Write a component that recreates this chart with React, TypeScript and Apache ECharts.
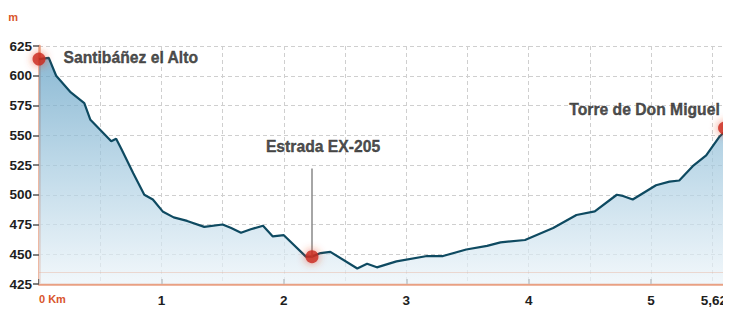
import React, { useEffect, useRef } from "react";
import * as echarts from "echarts";

// Distance along the route (km) and elevation (m)
const distances = [
  0, 0.08, 0.14, 0.26, 0.37, 0.42, 0.505, 0.59, 0.63, 0.67, 0.77, 0.86, 0.93,
  1.01, 1.1, 1.21, 1.35, 1.5, 1.57, 1.65, 1.73, 1.83, 1.91, 2.0, 2.18, 2.23,
  2.3, 2.38, 2.6, 2.68, 2.76, 2.92, 3.17, 3.3, 3.49, 3.66, 3.77, 3.97, 4.2,
  4.39, 4.54, 4.72, 4.77, 4.85, 5.04, 5.15, 5.23, 5.34, 5.45, 5.56, 5.62,
];
const elevations = [
  614, 615, 600, 586, 577, 563, 554, 545, 547, 539, 518, 500, 496, 486, 481,
  478, 473, 475, 472, 468, 471, 474, 465, 466, 448, 448, 451, 452, 438, 442,
  439, 444, 448.5, 448.5, 454, 457, 460, 462, 472, 483, 486, 500, 499, 496,
  508, 511, 512, 524, 533, 549, 555,
];

// Named places on the route
const placeNames = ["Santibáñez el Alto", "Estrada EX-205", "Torre de Don Miguel"];
const placeKm = [0, 2.23, 5.6];
const placeElev = [614, 448, 556];
const estradaLeaderTop = 522;
const baseGuideElev = 435;

const yTicks = [425, 450, 475, 500, 525, 550, 575, 600, 625];
const xMax = 5.62;

const FONT = "'Liberation Sans', Arial, sans-serif";
const AXIS_COLOR = "#e9a083";
const RED_TEXT = "#d9552b";
const TEXT = "#1e1e1e";

export default function App() {
  const ref = useRef<HTMLDivElement>(null);

  useEffect(() => {
    if (!ref.current) return;
    const chart = echarts.init(ref.current, undefined, { renderer: "svg" });

    const profile = distances.map((d, i) => [d, elevations[i]]);

    const labelCfgs: any[] = [
      { position: "right", distance: 18, offset: [0, -2] },
      { position: "top", distance: 96, offset: [11, 0] },
      { position: "top", distance: 4, offset: [-80, 0] },
    ];
    const places = placeNames.map((name, i) => ({
      name,
      value: [placeKm[i], placeElev[i]],
      label: {
        show: true,
        formatter: name,
        color: TEXT,
        fontSize: 15.7,
        fontWeight: "bold",
        fontFamily: FONT,
        textBorderColor: TEXT,
        textBorderWidth: 0.4,
        ...labelCfgs[i],
      },
    }));

    chart.setOption({
      animation: false,
      grid: { left: 39, right: 4, top: 46, bottom: 26, containLabel: false },
      xAxis: [
        {
          type: "value",
          min: 0,
          max: xMax,
          interval: 1,
          axisLine: { show: true, lineStyle: { color: AXIS_COLOR, width: 2.5 } },
          axisTick: { show: true, inside: true, length: 5, lineStyle: { color: "#555", width: 1.5 } },
          splitLine: { show: false },
          axisLabel: {
            margin: 9,
            fontSize: 13.5,
            fontWeight: "bold",
            color: TEXT,
            fontFamily: FONT,
            alignMinLabel: "left",
            alignMaxLabel: "right",
            formatter: (v: number) => {
              if (v === 0) return "{r|0 Km}";
              if (Math.abs(v - xMax) < 1e-6) return "5,62";
              return String(v);
            },
            rich: {
              r: { color: RED_TEXT, fontSize: 11, fontWeight: "bold", fontFamily: FONT },
            },
          },
        },
        {
          type: "value",
          min: 0,
          max: xMax,
          interval: 0.5,
          axisLine: { show: false },
          axisTick: { show: false },
          axisLabel: { show: false },
          splitLine: { show: true, lineStyle: { color: "#cfcfcf", type: [4, 3], width: 1 } },
        },
      ],
      yAxis: {
        type: "value",
        min: yTicks[0],
        max: yTicks[yTicks.length - 1],
        interval: 25,
        name: "m",
        nameLocation: "end",
        nameGap: 24,
        nameTextStyle: {
          color: RED_TEXT,
          fontSize: 11,
          fontWeight: "bold",
          fontFamily: FONT,
          align: "right",
          padding: [0, 21, 0, 0],
        },
        axisLine: { show: true, lineStyle: { color: AXIS_COLOR, width: 2.5 } },
        axisTick: { show: true, length: 6, lineStyle: { color: "#555", width: 1.5 } },
        axisLabel: {
          margin: 7,
          fontSize: 13.5,
          fontWeight: "bold",
          color: TEXT,
          fontFamily: FONT,
        },
        splitLine: { show: true, lineStyle: { color: "#cfcfcf", type: [4, 3], width: 1 } },
      },
      series: [
        {
          type: "line",
          data: profile,
          xAxisIndex: 0,
          symbol: "none",
          lineStyle: { color: "#0e4a61", width: 2.2 },
          areaStyle: {
            color: new echarts.graphic.LinearGradient(0, 0, 0, 1, [
              { offset: 0, color: "#5d9dc2" },
              { offset: 0.5, color: "#a6cbe0" },
              { offset: 1, color: "#ecf4f9" },
            ]),
          },
          markLine: {
            silent: true,
            symbol: "none",
            label: { show: false },
            lineStyle: { color: "rgba(233,160,131,0.35)", type: "solid", width: 1.2 },
            data: [{ yAxis: baseGuideElev }],
          },
          z: 2,
        },
        {
          type: "scatter",
          xAxisIndex: 0,
          data: places,
          clip: false,
          symbol: "circle",
          symbolSize: 13,
          itemStyle: {
            color: "#c9281d",
            shadowBlur: 8,
            shadowColor: "rgba(235,70,40,0.85)",
          },
          markLine: {
            silent: true,
            symbol: "none",
            label: { show: false },
            lineStyle: { color: "#888", type: "solid", width: 1.5 },
            data: [
              [
                { coord: [placeKm[1], placeElev[1]] },
                { coord: [placeKm[1], estradaLeaderTop] },
              ],
            ],
          },
          z: 5,
        },
      ],
    });

    return () => chart.dispose();
  }, []);

  return <div ref={ref} style={{ width: 731, height: 310, marginLeft: -8, marginTop: -8 }} />;
}
